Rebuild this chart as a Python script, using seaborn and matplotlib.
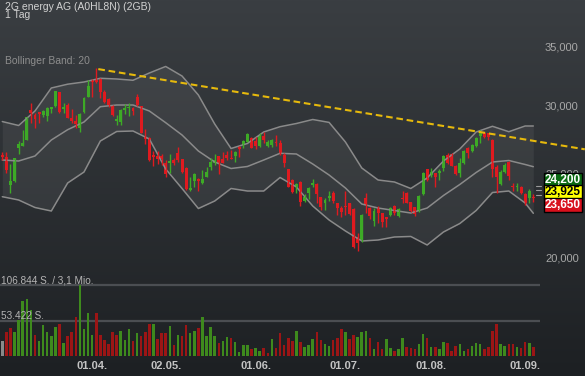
import matplotlib
matplotlib.use("Agg")
import matplotlib.pyplot as plt
import numpy as np
import seaborn as sns
from matplotlib.colors import LinearSegmentedColormap
from matplotlib.ticker import FixedLocator, FuncFormatter, NullLocator
from matplotlib.transforms import blended_transform_factory

# ---------- data ----------
opens = [26270, 26150, 24260, 24540, 26790, 26930, 27340, 29600, 29210, 29430,
         29210, 29140, 29660, 29920, 31080, 29660, 30000, 29010, 28750, 28200,
         29470, 30670, 32060, 32060, 32200, 31030, 30460, 29950, 28780, 28700,
         29600, 29740, 29790, 30670, 29920, 27580, 27460, 26270, 26220, 26220,
         25740, 25700, 25920, 26430, 25990, 25400, 23940, 24520, 24670, 24410,
         24800, 25450, 25720, 26200, 25970, 26250, 26060, 26200, 26860, 26980,
         27220, 27510, 27290, 26910, 27630, 26930, 26980, 27220, 27140, 26270,
         25310, 24580, 24110, 24450, 23270, 23770, 24260, 24300, 23480, 23110,
         23420, 23730, 23110, 22840, 22970, 23110, 22740, 21110, 20960, 23460,
         22800, 22070, 22800, 22500, 22270, 22400, 22940, 22360, 23450, 23770,
         23210, 22860, 22660, 23690, 25290, 24910, 25020, 25020, 25360, 26270,
         26340, 25510, 25020, 25700, 26790, 26550, 26910, 27630, 27870, 27830,
         27340, 25430, 24320, 25130, 25810, 24180, 24120, 24150, 23690, 23420,
         23490]
highs = [26500, 26500, 25650, 26080, 27270, 28070, 29080, 30140, 29350, 29470,
         29600, 29870, 29870, 31140, 31080, 30140, 30180, 29660, 29210, 29350,
         30670, 32060, 32120, 33070, 32200, 31220, 30540, 30000, 29210, 29660,
         30060, 30140, 29870, 30870, 29920, 28130, 27530, 26550, 26550, 26340,
         25920, 26340, 26040, 26810, 25990, 25470, 24760, 25020, 24690, 25240,
         25470, 26060, 26340, 26200, 26500, 26570, 26620, 26550, 26930, 27340,
         27830, 27580, 27530, 27830, 27900, 27340, 27410, 27700, 27340, 26390,
         25310, 24630, 24410, 24520, 23690, 24110, 24630, 24370, 23520, 23420,
         23880, 23900, 23150, 22940, 23880, 23150, 22800, 21340, 22440, 23730,
         22860, 22800, 22940, 22540, 22270, 22900, 23000, 22800, 23900, 23810,
         23210, 22900, 23620, 25130, 25330, 25360, 25060, 25290, 26270, 26390,
         26390, 25560, 26040, 26620, 26810, 27050, 27530, 28070, 27950, 27830,
         27390, 25580, 25240, 25740, 25880, 24370, 24410, 24200, 23730, 23980,
         23690]
lows = [25920, 25060, 23730, 24470, 26320, 26900, 27310, 28620, 28200, 28620,
        29040, 28780, 29390, 29870, 29350, 29390, 28960, 28580, 28200, 27950,
        29390, 30620, 30670, 31780, 30540, 30140, 29870, 29140, 28450, 28450,
        29270, 29140, 29210, 29950, 27830, 27050, 25860, 25510, 25650, 25580,
        24760, 25020, 25580, 25810, 25020, 23940, 23900, 24150, 23900, 24320,
        24760, 25240, 25580, 24980, 25700, 25920, 25970, 25810, 26150, 26740,
        27170, 26740, 26670, 26860, 27100, 26810, 26860, 26910, 26270, 25470,
        24110, 23770, 23730, 22940, 23210, 23360, 24110, 23110, 22700, 22700,
        23270, 23150, 22400, 22300, 22400, 22400, 20540, 20360, 20870, 22500,
        22150, 21760, 21910, 21720, 21680, 22340, 22400, 22300, 23110, 23110,
        22600, 22340, 22600, 23620, 24540, 24760, 24110, 24580, 25200, 25650,
        25510, 24910, 24760, 25650, 26040, 26500, 26810, 27140, 27460, 27340,
        24760, 23730, 24260, 25020, 24580, 23900, 23900, 23690, 23000, 23110,
        23210]
closes = [26150, 25240, 24540, 26040, 27050, 27140, 29040, 29350, 28880, 29290,
          29530, 29790, 29840, 31140, 29470, 29870, 29010, 28750, 28520, 29270,
          30590, 31550, 31920, 31900, 31080, 30270, 30000, 29210, 28910, 29600,
          29740, 29870, 29550, 30000, 27870, 27390, 25920, 26110, 25990, 25970,
          24980, 25880, 25740, 25920, 25130, 23980, 24090, 24960, 24520, 24630,
          25130, 25790, 25920, 25700, 25700, 26060, 26020, 26460, 26670, 27270,
          27760, 26790, 26930, 27630, 27340, 27220, 27340, 27100, 26320, 25740,
          24150, 23830, 24300, 23210, 23520, 24050, 24410, 23670, 22860, 23310,
          23560, 23250, 22800, 22600, 22910, 22440, 20590, 20780, 22400, 23000,
          22340, 22660, 22500, 22010, 22170, 22800, 22500, 22760, 23390, 23150,
          22660, 22460, 23560, 25060, 24580, 25090, 24760, 25200, 26200, 25700,
          25540, 24980, 25700, 26550, 26390, 26980, 27460, 27830, 27580, 27530,
          25290, 24760, 25130, 25580, 24850, 24120, 24180, 23770, 23110, 23900,
          23420]
volumes = [23200, 36800, 41900, 35800, 54500, 83700, 85800, 69600, 31800, 22700,
           46400, 36800, 30300, 44400, 48900, 19200, 30300, 36800, 59500, 106844,
           40400, 64600, 31800, 65500, 31800, 24200, 18200, 36800, 31800, 37800,
           24200, 40400, 23200, 34300, 30300, 36800, 48400, 48400, 25200, 34300,
           34300, 45400, 16200, 31800, 30300, 46900, 34300, 37800, 41900, 59500,
           30300, 43400, 30300, 20100, 22700, 28300, 26800, 21700, 6500, 16600,
           16600, 10100, 11600, 8000, 11600, 4000, 25200, 11600, 34300, 16600,
           26800, 23200, 37800, 21700, 13100, 16600, 25200, 35800, 24200, 18200,
           15100, 24200, 27800, 40400, 35800, 26200, 31300, 28800, 35800, 37800,
           26800, 10600, 21700, 10100, 25700, 11600, 7600, 10100, 27800, 13100,
           12600, 10100, 18200, 33300, 26800, 13100, 14100, 10600, 21200, 20100,
           7600, 15100, 17700, 8000, 10100, 15100, 19200, 18200, 10600, 13100,
           38300, 48400, 18200, 15100, 17700, 17700, 13100, 11600, 21700, 19200,
           13100]

# Bollinger band (20) as drawn, sampled every 4 sessions
band_idx = [0, 4, 8, 12, 16, 20, 24, 28, 32, 36, 40, 44, 48, 52, 56, 60, 64,
            68, 72, 76, 80, 84, 88, 92, 96, 100, 104, 108, 112, 116, 120, 124, 128, 130]
band_upper = [28710, 28410, 29525, 31385, 31704, 31890, 32205, 32145, 32035, 32660,
              33232, 32400, 30807, 28524, 26727, 27085, 27925, 28320, 28562, 28867,
              28645, 27193, 25380, 24583, 24453, 24035, 24714, 25855, 26692, 27925,
              28350, 27947, 28373, 28373]
band_mid = [25923, 25855, 26200, 27337, 28096, 28676, 29865, 30000, 30000, 29526,
            28623, 27703, 26551, 25786, 25345, 25480, 25923, 26390, 26340, 25650,
            24911, 24067, 23065, 22820, 22670, 22520, 22820, 23592, 24292, 25078,
            25786, 25889, 25616, 25467]
band_lower = [23517, 23312, 22852, 22640, 24389, 25110, 27265, 27962, 27999, 27410,
              25312, 24035, 22790, 23250, 24035, 23875, 23875, 24747, 24131, 22943,
              22106, 21470, 20907, 20963, 21131, 21160, 20686, 21413, 21900, 22670,
              23780, 23875, 23127, 22503]

trend_idx = [23.5, 142.6]
trend_price = [33000, 26670]

date_ticks = [22, 40, 62, 84, 105, 128]
date_labels = ["01.04.", "02.05.", "01.06.", "01.07.", "01.08.", "01.09."]
price_ticks = [20000, 25000, 30000, 35000]
vol_levels = [53422, 106844]
vol_texts = ["53.422 S.", "106.844 S. / 3,1 Mio."]
last_high, last_close, last_low = 24200, 23925, 23650

# ---------- style ----------
sns.set_style("dark", rc={"axes.facecolor": "none", "figure.facecolor": "#2b2e32"})
plt.rcParams["font.family"] = ["Liberation Sans", "DejaVu Sans"]

W, H = 585, 376


def box(x0, y0, x1, y1):
    return [x0 / W, 1 - y1 / H, (x1 - x0) / W, (y1 - y0) / H]


fig = plt.figure(figsize=(W / 100, H / 100), dpi=100)

# background gradient
bg = fig.add_axes([0, 0, 1, 1], zorder=-10)
cmap = LinearSegmentedColormap.from_list("bg", ["#1d2023", "#3a3e42"])
bg.imshow(np.linspace(0, 1, 256).reshape(-1, 1)[::-1], aspect="auto", cmap=cmap,
          extent=[0, 1, 0, 1])
bg.set_axis_off()

idx = np.arange(len(closes))
o, h, l, c = map(np.asarray, (opens, highs, lows, closes))
up = c >= o
GREEN, RED = "#3daa26", "#df1a1f"
cols = np.where(up, GREEN, RED)
xlim = (-0.563, 142.65)

# ---------- price panel ----------
ax = fig.add_axes(box(0, 20, W, 262))
ax.set_facecolor("none")
ax.set_yscale("log")
ax.set_xlim(*xlim)
ax.set_ylim(19773, 37596)

ax.fill_between(band_idx, band_lower, band_upper, color="white", alpha=0.06, lw=0)
for band in (band_upper, band_mid, band_lower):
    sns.lineplot(x=band_idx, y=band, ax=ax, color="#8a8a8a", lw=1.1)

ax.vlines(idx, l, h, colors=cols, lw=1)
ax.bar(idx, c - o, bottom=o, width=0.72, color=cols, lw=0)

ax.plot(trend_idx, trend_price, color="#e6b90c", lw=1.5, dashes=(3.2, 1.8))

ax.yaxis.set_ticks_position("right")
ax.yaxis.set_major_locator(FixedLocator(price_ticks))
ax.yaxis.set_minor_locator(NullLocator())
ax.yaxis.set_major_formatter(FuncFormatter(lambda v, _: f"{v:,.0f}"))
ax.tick_params(axis="y", which="both", length=0, labelright=True, labelleft=False,
               pad=-28.8, labelsize=8, labelcolor="#a8a8a8")
ax.set_xticks([])
ax.set_xlabel("")
ax.set_ylabel("")
ax.grid(False)
for s in ax.spines.values():
    s.set_visible(False)

# last-price tags
trans = blended_transform_factory(ax.transAxes, ax.transData)
for p in (last_high, last_close, last_low):
    ax.axhline(p, xmin=536 / W, xmax=541 / W, color="#9a9a9a", lw=0.8)
for val, dy, face, tc in [(last_high, 7.5, "#0b6b12", "white"),
                          (last_close, -1.5, "#ffff00", "black"),
                          (last_low, -10.5, "#d8101c", "white")]:
    ax.annotate(f"{val:,.0f}", xy=(545 / W, last_close), xycoords=trans,
                xytext=(0, dy), textcoords="offset points", ha="left", va="center",
                fontsize=8.5, fontweight="bold", color=tc,
                bbox=dict(boxstyle="square,pad=0.1", fc=face, ec="black", lw=1))

# ---------- volume panel ----------
axv = fig.add_axes(box(0, 262, W, 356))
axv.set_facecolor("none")
axv.set_xlim(*xlim)
axv.set_ylim(0, 142200)
vcols = ["#8a8a8a"] + ["#3e8a1d" if c[i] >= c[i - 1] else "#9c1515" for i in range(1, len(c))]
axv.hlines(vol_levels, -0.563, 131.6, color="#4b4e52", lw=1.6, zorder=0)
axv.bar(idx, volumes, width=0.62, color=vcols, lw=0)
for lvl, txt in zip(vol_levels, vol_texts):
    axv.text(-0.3, lvl, txt, va="bottom", ha="left", fontsize=7.2, color="#b4b4b4")
axv.set_xticks(date_ticks, date_labels)
axv.tick_params(axis="x", length=0, pad=3.5, labelsize=8, labelcolor="#c4c4c4")
for lbl in axv.get_xticklabels():
    lbl.set_fontweight("bold")
axv.set_yticks([])
axv.grid(False)
for s in axv.spines.values():
    s.set_visible(False)

# ---------- header texts ----------
fig.text(5 / W, 1 - 1.5 / H, "2G energy AG (A0HL8N) (2GB)", va="top", fontsize=7.5,
         color="#d2d2d2")
fig.text(5 / W, 1 - 10.5 / H, "1 Tag", va="top", fontsize=7.5, color="#d2d2d2")
fig.text(5 / W, 1 - 61 / H, "Bollinger Band: 20", va="center", fontsize=7.5,
         color="#8d8d8d")

fig.savefig("out.png", dpi=100)
